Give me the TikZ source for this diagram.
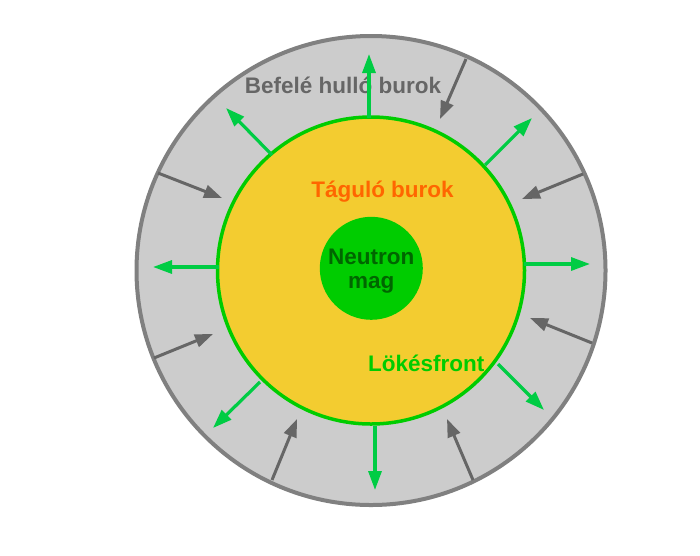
\documentclass[tikz,border=0pt]{standalone}
\usepackage{fontspec}
\setmainfont{Liberation Sans}
\usetikzlibrary{arrows.meta}
\definecolor{shellgray}{HTML}{CCCCCC}
\definecolor{shelledge}{HTML}{808080}
\definecolor{coreyellow}{HTML}{F3CC30}
\definecolor{frontgreen}{HTML}{00CC00}
\definecolor{arrowgreen}{HTML}{00CC44}
\definecolor{arrowgray}{HTML}{666666}
\definecolor{darkgreen}{HTML}{006600}
\definecolor{textorange}{HTML}{FF6600}
\tikzset{
  outarrow/.style={draw=arrowgreen, line width=3.2pt, -{Triangle[length=19pt,width=13pt]}, arrowgreen},
  inarrow/.style={draw=arrowgray, line width=3pt, -{Triangle[length=18pt,width=13pt]}, arrowgray},
  lbl/.style={font=\bfseries\fontsize{22.5}{24}\selectfont, inner sep=0pt, anchor=base},
}
\begin{document}
\begin{tikzpicture}[x=1pt,y=-1pt]
\useasboundingbox (0,0) rectangle (700,555);
\fill[white] (0,0) rectangle (700,555);
% shells
\node (center) at (371,270.5) {};
\draw[fill=shellgray, draw=shelledge, line width=4pt] (371,270.5) circle[radius=234.5];
\draw[fill=coreyellow, draw=frontgreen, line width=3.5pt] (371,270.5) circle[radius=153.5];
\fill[frontgreen] (371.3,268.3) circle[radius=51.5];
% labels
\node[lbl, text=arrowgray] (infall) at (343,93) {Befelé hulló burok};
\node[lbl, text=textorange] (expand) at (382.5,197) {Táguló burok};
\node[lbl, text=darkgreen] (core1) at (371.2,264.3) {Neutron};
\node[lbl, text=darkgreen] (core2) at (371.2,288.3) {mag};
\node[lbl, text=frontgreen] (front) at (426.3,371) {Lökésfront};
% outward arrows
\coordinate (g1s) at (369,118); \coordinate (g1e) at (369,54);
\coordinate (g2s) at (485,165); \coordinate (g2e) at (532,118);
\coordinate (g3s) at (524,264); \coordinate (g3e) at (590,264);
\coordinate (g4s) at (498,364); \coordinate (g4e) at (544,410);
\coordinate (g5s) at (375,426); \coordinate (g5e) at (375,490);
\coordinate (g6s) at (260,382); \coordinate (g6e) at (213,428);
\coordinate (g7s) at (219,267); \coordinate (g7e) at (153,267);
\coordinate (g8s) at (272,155); \coordinate (g8e) at (226,108);
\foreach \i in {1,...,8} { \draw[outarrow] (g\i s) -- (g\i e); }
% inward arrows
\coordinate (r1s) at (466,59);  \coordinate (r1e) at (440,119);
\coordinate (r2s) at (158,173); \coordinate (r2e) at (222,198);
\coordinate (r3s) at (583,174); \coordinate (r3e) at (522,199);
\coordinate (r4s) at (154,358); \coordinate (r4e) at (213,334);
\coordinate (r5s) at (592,343); \coordinate (r5e) at (530,318);
\coordinate (r6s) at (272,480); \coordinate (r6e) at (297,419);
\coordinate (r7s) at (473,480); \coordinate (r7e) at (447,419);
\foreach \i in {1,...,7} { \draw[inarrow] (r\i s) -- (r\i e); }
\end{tikzpicture}
\end{document}
